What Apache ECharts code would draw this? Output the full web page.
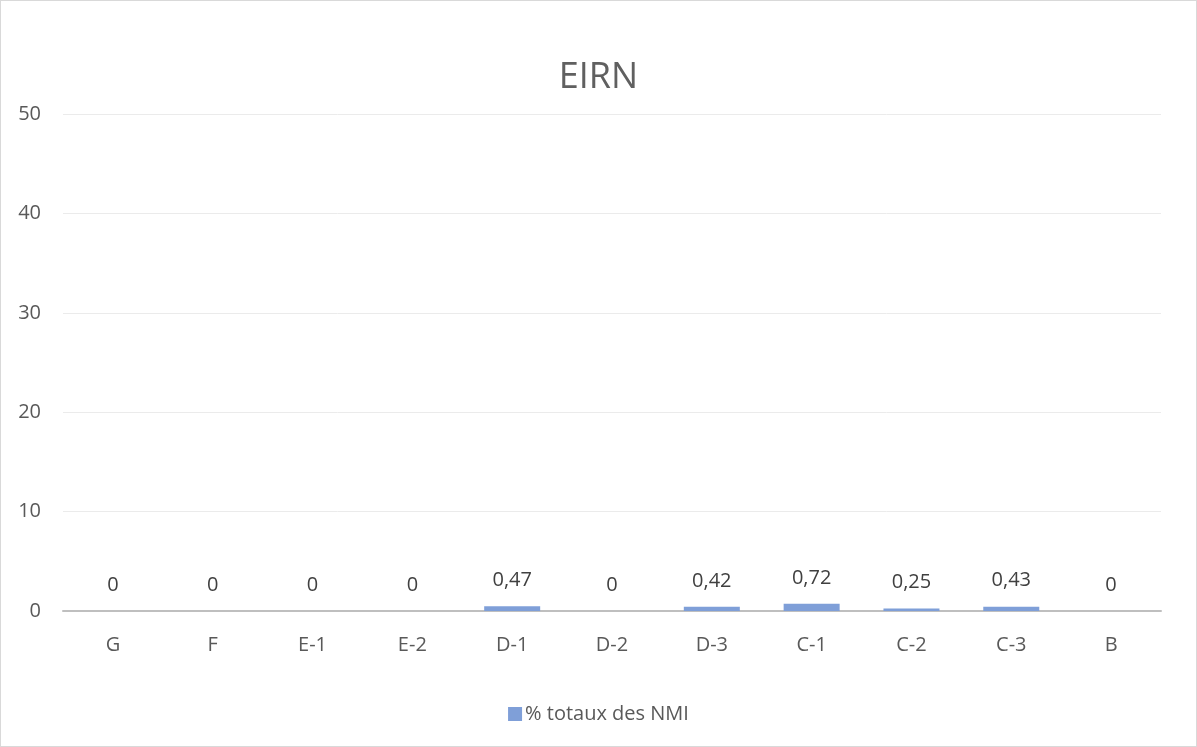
<!DOCTYPE html>
<html><head><meta charset="utf-8">
<script src="https://cdn.jsdelivr.net/npm/echarts@6/dist/echarts.min.js"></script>
<style>html,body{margin:0;padding:0;background:#fff}#c{width:1197px;height:747px;box-sizing:border-box;border:1px solid #D9D9D9}</style>
</head><body><div id="c"></div>
<script>
const categories = ['G','F','E-1','E-2','D-1','D-2','D-3','C-1','C-2','C-3','B'];
const values = [0,0,0,0,0.47,0,0.42,0.72,0.25,0.43,0];
const seriesName = '% totaux des NMI';
const yTicks = {min:0,max:50,interval:10};
const font = '"Open Sans", "Liberation Sans", sans-serif';
const chart = echarts.init(document.getElementById('c'));
chart.setOption({
  animation:false,
  title:{text:'EIRN',left:'center',top:54,textStyle:{fontFamily:font,fontSize:36,fontWeight:'normal',color:'#606060'}},
  grid:{left:62,right:35,top:113,bottom:135},
  legend:{bottom:17,left:'center',itemWidth:14,itemHeight:14,icon:'rect',itemGap:4,
    textStyle:{fontFamily:font,fontSize:20,color:'#595959',padding:[0,0,0,-2]},data:[seriesName]},
  xAxis:{type:'category',data:categories,
    axisLine:{lineStyle:{color:'#BFBFBF',width:2}},axisTick:{show:false},
    axisLabel:{fontFamily:font,fontSize:20,color:'#595959',margin:24}},
  yAxis:{type:'value',min:yTicks.min,max:yTicks.max,interval:yTicks.interval,
    axisLine:{show:false},axisTick:{show:false},
    splitLine:{lineStyle:{color:'#EBEBEB',width:1}},
    axisLabel:{fontFamily:font,fontSize:20,color:'#595959',margin:22}},
  series:[{name:seriesName,type:'bar',data:values,barWidth:56,
    itemStyle:{color:'#7F9FD8'},
    label:{show:true,position:'top',distance:16,fontFamily:font,fontSize:20,color:'#404040',
      formatter:p=>String(p.value).replace('.',',')}}]
});
</script></body></html>
